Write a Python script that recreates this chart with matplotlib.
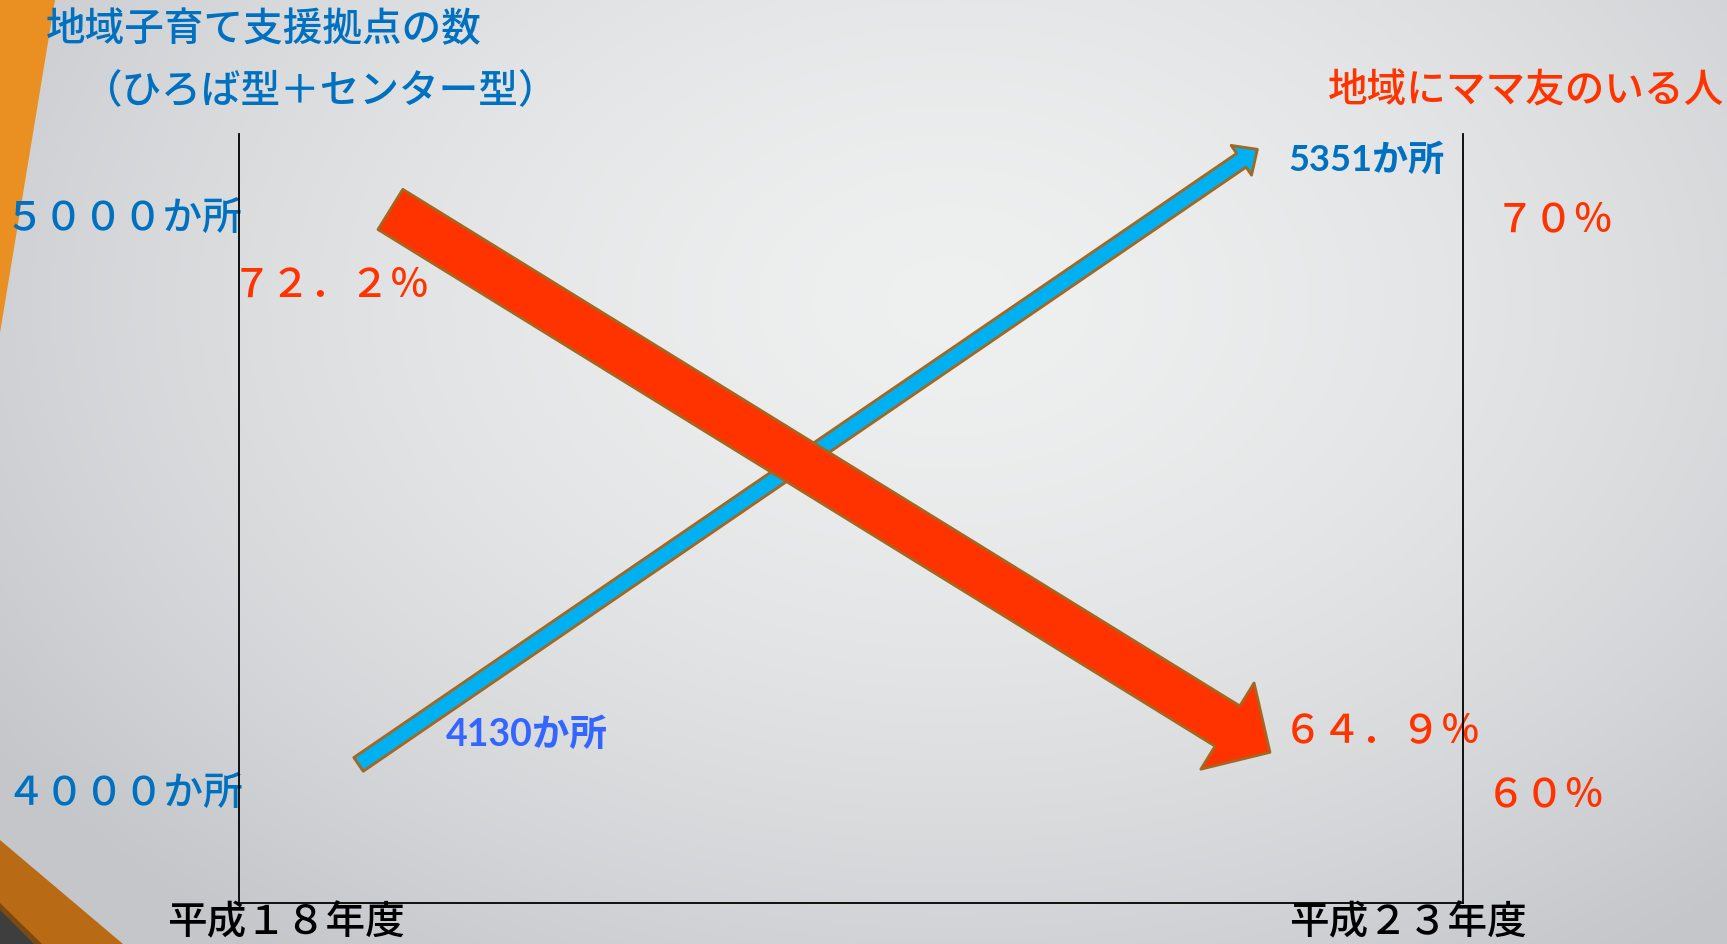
import numpy as np
import matplotlib.pyplot as plt
from matplotlib.patches import FancyArrowPatch, ArrowStyle, Polygon

plt.rcParams['font.family'] = ['Noto Sans CJK JP', 'DejaVu Sans']
plt.rcParams['font.weight'] = 'medium'

# data
years = [18, 23]
year_labels = ['平成１８年度', '平成２３年度']
counts = [4130, 5351]
count_labels = ['4130か所', '5351か所']
count_ticks = ['５０００か所', '４０００か所']
rates = [72.2, 64.9]
rate_labels = ['７２．２％', '６４．９％']
rate_ticks = ['７０％', '６０％']

W, H = 1727, 944
blue = '#0070C0'
red = '#FF3300'
edge = '#A5661F'

fig = plt.figure(figsize=(W / 100, H / 100), dpi=100)

# background layer in pixel units
bg = fig.add_axes([0, 0, 1, 1])
bg.set_xlim(0, W)
bg.set_ylim(H, 0)
bg.axis('off')
yy, xx = np.mgrid[0:H:4, 0:W:4]
d = np.sqrt(((xx - 950) / 1150) ** 2 + ((yy - 300) / 800) ** 2)
t = np.clip(d, 0, 1) ** 1.6
light = np.array([0.935, 0.94, 0.94])
dark = np.array([0.77, 0.78, 0.795])
img = light + (dark - light) * t[..., None]
bg.imshow(img, extent=[0, W, H, 0], aspect='auto', zorder=0)

# slide decorations
bg.add_patch(Polygon([(0, 0), (55, 0), (0, 333)], closed=True, fc='#EA9023', ec='none', zorder=1))
bg.add_patch(Polygon([(0, 840), (123, 944), (0, 944)], closed=True, fc='#B86B14', ec='none', zorder=1))
bg.add_patch(Polygon([(0, 903), (42, 944), (0, 944)], closed=True, fc='#7A4A12', ec='none', zorder=1))
bg.add_patch(Polygon([(0, 910), (34, 944), (0, 944)], closed=True, fc='#3E3E3E', ec='none', zorder=1))

# chart frame
ax = fig.add_axes([239 / W, (H - 903) / H, (1463 - 239) / W, (903 - 134) / H])
ax.set_facecolor('none')
ax.set_xlim(17.3445, 24.0587)
ax.set_ylim(3858.7, 5364.1)
ax.set_xticks([])
ax.set_yticks([])
ax.spines['top'].set_visible(False)
for s in ['left', 'right', 'bottom']:
    ax.spines[s].set_linewidth(1.3)
    ax.spines[s].set_color('black')

ax2 = ax.twinx()
ax2.set_ylim(62.945, 72.923)
ax2.set_yticks([])
for s in ax2.spines.values():
    s.set_visible(False)

# count arrow (blue)
a1 = FancyArrowPatch((years[0], counts[0]), (years[1], counts[1]),
                     transform=ax.transData,
                     arrowstyle=ArrowStyle.Simple(head_length=14, head_width=26, tail_width=12),
                     mutation_scale=1, shrinkA=0, shrinkB=11,
                     fc='#00B0F0', ec=edge, lw=2, clip_on=False, zorder=3)
ax.add_patch(a1)

# rate arrow (red)
a2 = FancyArrowPatch((years[0], rates[0]), (years[1], rates[1]),
                     transform=ax2.transData,
                     arrowstyle=ArrowStyle.Simple(head_length=36, head_width=73, tail_width=34),
                     mutation_scale=1, shrinkA=27, shrinkB=0,
                     fc=red, ec=edge, lw=2, clip_on=False, zorder=4)
ax2.add_patch(a2)

# texts
fs = 28.5
bg.text(46, 30, '地域子育て支援拠点の数', color=blue, fontsize=fs, va='center', ha='left')
bg.text(82, 92, '（ひろば型＋センター型）', color=blue, fontsize=fs, va='center', ha='left')
bg.text(1724, 92, '地域にママ友のいる人', color=red, fontsize=fs, va='center', ha='right')

bg.text(5, 220, count_ticks[0], color=blue, fontsize=fs, va='center', ha='left')
bg.text(5, 795, count_ticks[1], color=blue, fontsize=fs, va='center', ha='left')
bg.text(1495, 220, rate_ticks[0], color=red, fontsize=fs, va='center', ha='left')
bg.text(1486, 795, rate_ticks[1], color=red, fontsize=fs, va='center', ha='left')

bg.text(232, 286, rate_labels[0], color=red, fontsize=fs, va='center', ha='left')
bg.text(1283, 731, rate_labels[1], color=red, fontsize=fs, va='center', ha='left')

bg.text(446, 735, count_labels[0], color='#3366FF', fontsize=27, va='center', ha='left',
        family=['Lato', 'Noto Sans CJK JP'], fontweight='bold')
bg.text(1288, 160, count_labels[1], color=blue, fontsize=26, va='center', ha='left',
        family=['Lato', 'Noto Sans CJK JP'], fontweight='bold')

bg.text(167, 923, year_labels[0], color='black', fontsize=fs, va='center', ha='left')
bg.text(1289, 923, year_labels[1], color='black', fontsize=fs, va='center', ha='left')

fig.savefig('out.png', dpi=100)
